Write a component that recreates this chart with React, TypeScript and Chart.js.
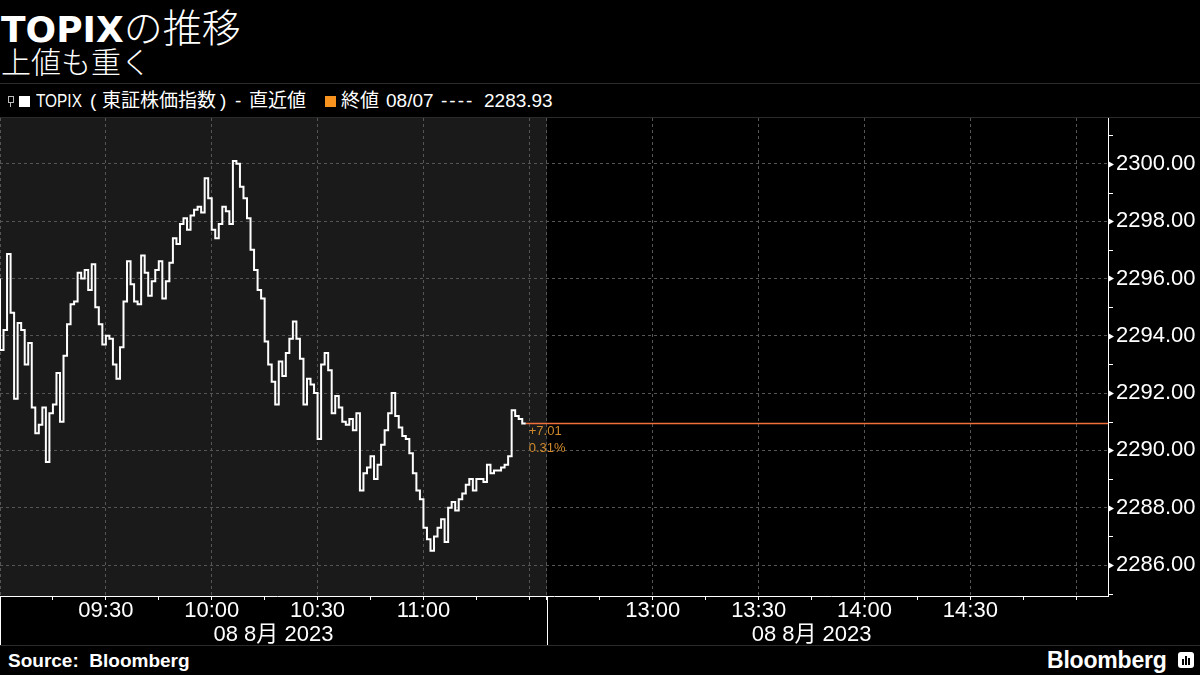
import React, { useEffect, useRef } from "react";
import { Chart, registerables } from "chart.js";

Chart.register(...registerables);

// ---- data (x = session minutes: 09:00 = 0, 11:30 = 150, 12:30 = 155, 15:00 = 305) ----
const topixValues: number[] = [
  2296.0, 2293.5, 2294.2, 2296.85, 2294.8, 2291.8, 2294.45, 2294.2, 2293.0, 2293.75,
  2291.5, 2290.6, 2290.9, 2291.5, 2289.6, 2291.3, 2291.6, 2292.7, 2291.0, 2293.3,
  2294.4, 2295.1, 2295.2, 2296.2, 2296.0, 2296.3, 2295.6, 2296.5, 2295.0, 2294.4,
  2293.7, 2294.0, 2293.9, 2293.0, 2292.5, 2293.6, 2295.2, 2296.6, 2295.8, 2295.2,
  2295.1, 2296.8, 2296.2, 2295.4, 2295.9, 2296.3, 2296.6, 2295.3, 2295.9, 2296.55,
  2297.4, 2297.2, 2297.9, 2298.1, 2297.7, 2298.2, 2298.4, 2298.5, 2298.3, 2299.5,
  2298.8, 2297.7, 2297.4, 2297.9, 2298.5, 2298.35, 2297.9, 2300.1, 2300.0, 2299.2,
  2298.8, 2298.1, 2297.0, 2296.3, 2295.6, 2295.3, 2293.8, 2293.0, 2292.4, 2291.6,
  2293.1, 2292.6, 2293.4, 2293.9, 2294.5, 2293.9, 2293.2, 2291.6, 2292.5, 2292.3,
  2292.0, 2290.4, 2293.0, 2293.4, 2292.8, 2291.3, 2291.9, 2291.5, 2291.0, 2290.9,
  2291.1, 2290.7, 2291.3, 2288.6, 2289.2, 2289.4, 2289.8, 2289.0, 2289.5, 2290.2,
  2290.7, 2291.3, 2292.0, 2291.2, 2290.8, 2290.5, 2290.4, 2289.9, 2289.2, 2288.6,
  2288.3, 2287.3, 2286.9, 2286.5, 2287.0, 2287.3, 2287.6, 2286.8, 2288.0, 2288.2,
  2287.9, 2288.3, 2288.5, 2288.8, 2289.0, 2288.6, 2289.0, 2289.0, 2288.9, 2289.5,
  2289.2, 2289.3, 2289.3, 2289.4, 2289.5, 2289.8, 2291.4, 2291.2, 2291.1, 2290.94,
];

const xTickMinutes: number[] = [
  0, 15, 30, 45, 60, 75, 90, 105, 120, 135, 150,
  155, 170, 185, 200, 215, 230, 245, 260, 275, 290, 305,
];
const xGridMinutes: number[] = [0, 30, 60, 90, 120, 150, 155, 185, 215, 245, 275, 305];
const xLabelMinutes: number[] = [30, 60, 90, 120, 185, 215, 245, 275];
const xLabels: string[] = ["09:30", "10:00", "10:30", "11:00", "13:00", "13:30", "14:00", "14:30"];
const sessionStarts: number[] = [0, 155];
const dateLabelMinutes: number[] = [77.5, 230];
const dateLabels: string[] = ["08 8月 2023", "08 8月 2023"];

const yTickValues: number[] = [
  2285, 2286, 2287, 2288, 2289, 2290, 2291, 2292, 2293, 2294, 2295, 2296, 2297, 2298, 2299, 2300, 2301,
];
const yLabelValues: number[] = [2286, 2288, 2290, 2292, 2294, 2296, 2298, 2300];

const prevClose = 2283.93;
const lastValue = 2290.94;
const changeAbs = "+7.01";
const changePct = "0.31%";

const X_MIN = 0;
const X_MAX = 314;
const Y_MIN = 2284.92;
const Y_MAX = 2301.6;

const AXIS_FONT = "'Liberation Sans', Arial, 'Noto Sans CJK JP', sans-serif";
const CJK_FONT = "'Noto Sans CJK JP', 'Noto Sans CJK SC', sans-serif";
const LEGEND_FONT = "'Liberation Sans', Arial, 'Noto Sans CJK JP', sans-serif";
const GRID_COLOR = "#555555";
const SHADE_COLOR = "#1a1a1a";
const LAST_LINE_COLOR = "#f0703c";
const ANNOT_COLOR = "#d08a2c";

const decorPlugin = {
  id: "decor",
  beforeDraw(chart: any) {
    const { ctx, chartArea, scales } = chart;
    const x = scales.x;
    const x0 = x.getPixelForValue(sessionStarts[0]);
    const x1 = x.getPixelForValue(sessionStarts[1]);
    ctx.save();
    ctx.fillStyle = SHADE_COLOR;
    ctx.fillRect(x0, chartArea.top, x1 - x0, chartArea.bottom - chartArea.top);
    ctx.restore();
  },
  afterDraw(chart: any) {
    const { ctx, chartArea, scales } = chart;
    const x = scales.x;
    const y = scales.y;
    const H = chart.height;
    ctx.save();
    ctx.strokeStyle = "#ffffff";
    ctx.lineWidth = 1;
    sessionStarts.forEach((m) => {
      const px = Math.round(x.getPixelForValue(m)) + 0.5;
      ctx.beginPath();
      ctx.moveTo(px, chartArea.bottom);
      ctx.lineTo(px, H);
      ctx.stroke();
    });
    ctx.fillStyle = "#ffffff";
    ctx.font = `22px ${AXIS_FONT}`;
    ctx.textAlign = "center";
    ctx.textBaseline = "middle";
    dateLabelMinutes.forEach((m, i) => {
      ctx.fillText(dateLabels[i], x.getPixelForValue(m), chartArea.bottom + 39);
    });
    const ax = chartArea.right;
    yTickValues.forEach((v) => {
      const py = Math.round(y.getPixelForValue(v)) + 0.5;
      if (yLabelValues.includes(v)) {
        ctx.beginPath();
        ctx.moveTo(ax, py - 3.5);
        ctx.lineTo(ax + 6, py);
        ctx.lineTo(ax, py + 3.5);
        ctx.closePath();
        ctx.fill();
      } else {
        ctx.beginPath();
        ctx.moveTo(ax, py);
        ctx.lineTo(ax + 5, py);
        ctx.stroke();
      }
    });
    const lx = x.getPixelForValue(topixValues.length - 1) + 3;
    const ly = y.getPixelForValue(lastValue);
    ctx.fillStyle = ANNOT_COLOR;
    ctx.font = `13px ${AXIS_FONT}`;
    ctx.textAlign = "left";
    ctx.textBaseline = "middle";
    ctx.fillText(changeAbs, lx, ly + 8);
    ctx.fillText(changePct, lx, ly + 25);
    ctx.restore();
  },
};

function ChartCanvas() {
  const ref = useRef<HTMLCanvasElement | null>(null);
  useEffect(() => {
    const canvas = ref.current;
    if (!canvas) return;
    const points = topixValues.map((v, i) => ({ x: i, y: v }));
    const lastIdx = topixValues.length - 1;
    const chart = new Chart(canvas, {
      type: "line",
      data: {
        datasets: [
          {
            label: "TOPIX",
            data: points,
            borderColor: "#ffffff",
            borderWidth: 2,
            pointRadius: 0,
            stepped: "after",
            fill: false,
            order: 0,
          } as any,
          {
            label: "last",
            data: [
              { x: lastIdx, y: lastValue },
              { x: X_MAX, y: lastValue },
            ],
            borderColor: LAST_LINE_COLOR,
            borderWidth: 1.3,
            pointRadius: 0,
            fill: false,
            order: 1,
          } as any,
        ],
      },
      options: {
        animation: false,
        responsive: false,
        devicePixelRatio: 1,
        layout: { padding: 0 },
        plugins: { legend: { display: false }, tooltip: { enabled: false } },
        scales: {
          x: {
            type: "linear",
            position: "bottom",
            min: X_MIN,
            max: X_MAX,
            afterBuildTicks: (s: any) => {
              s.ticks = xTickMinutes.map((v) => ({ value: v }));
            },
            afterFit: (s: any) => {
              s.height = 49;
              s.paddingLeft = 0;
              s.paddingRight = 0;
            },
            grid: {
              color: (c: any) => (xGridMinutes.includes(c.tick?.value) ? GRID_COLOR : "rgba(0,0,0,0)"),
              lineWidth: 1,
              drawTicks: true,
              tickLength: 4,
              tickColor: "#ffffff",
              tickWidth: 1,
            },
            border: { display: true, color: "#ffffff", width: 1, dash: [3, 3] },
            ticks: {
              color: "#ffffff",
              font: { family: AXIS_FONT, size: 22 },
              padding: -2,
              maxRotation: 0,
              autoSkip: false,
              callback: (v: any) => {
                const k = xLabelMinutes.indexOf(Number(v));
                return k >= 0 ? xLabels[k] : "";
              },
            },
          },
          y: {
            type: "linear",
            position: "right",
            min: Y_MIN,
            max: Y_MAX,
            afterBuildTicks: (s: any) => {
              s.ticks = yTickValues.map((v) => ({ value: v }));
            },
            afterFit: (s: any) => {
              s.width = 92;
              s.paddingTop = 0;
              s.paddingBottom = 0;
            },
            grid: {
              color: (c: any) => (yLabelValues.includes(c.tick?.value) ? GRID_COLOR : "rgba(0,0,0,0)"),
              lineWidth: 1,
              drawTicks: false,
            },
            border: { display: true, color: "#ffffff", width: 1, dash: [3, 3] },
            ticks: {
              color: "#ffffff",
              font: { family: AXIS_FONT, size: 22 },
              padding: 8,
              autoSkip: false,
              callback: (v: any) => (yLabelValues.includes(Number(v)) ? Number(v).toFixed(2) : ""),
            },
          },
        },
      } as any,
      plugins: [decorPlugin],
    });
    return () => chart.destroy();
  }, []);
  return <canvas ref={ref} width={1200} height={527} style={{ display: "block", width: 1200, height: 527 }} />;
}

const legSpan = (left: number, text: string, extra: any = {}) => (
  <span style={{ position: "absolute", left, top: 0, lineHeight: "22px", whiteSpace: "nowrap", ...extra }}>{text}</span>
);

export default function App() {
  return (
    <div
      style={{
        position: "absolute",
        left: 0,
        top: 0,
        width: 1200,
        height: 675,
        background: "#000",
        overflow: "hidden",
        color: "#fff",
      }}
    >
      {/* title */}
      <div style={{ position: "absolute", left: 1, top: 2, whiteSpace: "nowrap", lineHeight: "46px", height: 46 }}>
        <span style={{ fontFamily: "'DejaVu Sans', sans-serif", fontWeight: 700, fontSize: 36 }}>TOPIX</span>
        <span style={{ fontFamily: CJK_FONT, fontWeight: 300, fontSize: 39 }}>の推移</span>
      </div>
      <div
        style={{
          position: "absolute",
          left: 1,
          top: 42,
          fontFamily: CJK_FONT,
          fontWeight: 300,
          fontSize: 30,
          lineHeight: "36px",
          whiteSpace: "nowrap",
        }}
      >
        上値も重く
      </div>
      <div style={{ position: "absolute", left: 0, top: 83, width: 1200, height: 1, background: "#2b2b2b" }} />
      {/* legend */}
      <div
        style={{
          position: "absolute",
          left: 0,
          top: 90,
          width: 600,
          height: 22,
          fontFamily: LEGEND_FONT,
          fontSize: 19,
        }}
      >
        <span
          style={{ position: "absolute", left: 8, top: 6, width: 4, height: 5, border: "1px solid #bbb" }}
        />
        <span style={{ position: "absolute", left: 10, top: 13, width: 1, height: 4, background: "#bbb" }} />
        <span style={{ position: "absolute", left: 19, top: 6, width: 11, height: 11, background: "#fff" }} />
        {legSpan(36, "TOPIX", { transform: "scaleX(0.81)", transformOrigin: "left center" })}
        {legSpan(90, "(")}
        {legSpan(102, "東証株価指数")}
        {legSpan(220, ")")}
        {legSpan(235, "-")}
        {legSpan(249, "直近値")}
        <span style={{ position: "absolute", left: 325, top: 6, width: 11, height: 11, background: "#f7931e" }} />
        {legSpan(341, "終値")}
        {legSpan(386, "08/07")}
        {legSpan(441, "----", { letterSpacing: 2 })}
        {legSpan(484, prevClose.toFixed(2))}
      </div>
      <div style={{ position: "absolute", left: 0, top: 117, width: 1200, height: 1, background: "#2b2b2b" }} />
      {/* chart */}
      <div style={{ position: "absolute", left: 0, top: 118, width: 1200, height: 527 }}>
        <ChartCanvas />
      </div>
      {/* footer */}
      <div style={{ position: "absolute", left: 0, top: 645, width: 1200, height: 1, background: "#2b2b2b" }} />
      <div
        style={{
          position: "absolute",
          left: 8,
          top: 650,
          fontFamily: "'Liberation Sans', Arial, sans-serif",
          fontWeight: 700,
          fontSize: 19,
          lineHeight: "22px",
          whiteSpace: "nowrap",
        }}
      >
        Source:&nbsp; Bloomberg
      </div>
      <div
        style={{
          position: "absolute",
          left: 1047,
          top: 646,
          fontFamily: "'Liberation Sans', Arial, sans-serif",
          fontWeight: 700,
          fontSize: 23,
          lineHeight: "28px",
          letterSpacing: -0.2,
          whiteSpace: "nowrap",
        }}
      >
        Bloomberg
      </div>
      <div
        style={{
          position: "absolute",
          left: 1178,
          top: 652,
          width: 16,
          height: 16,
          background: "#fff",
          borderRadius: 3,
        }}
      >
        <div style={{ position: "absolute", left: 4, top: 7, width: 2, height: 6, background: "#000" }} />
        <div style={{ position: "absolute", left: 7, top: 4, width: 2, height: 9, background: "#000" }} />
        <div style={{ position: "absolute", left: 10, top: 6, width: 2, height: 7, background: "#000" }} />
      </div>
    </div>
  );
}
